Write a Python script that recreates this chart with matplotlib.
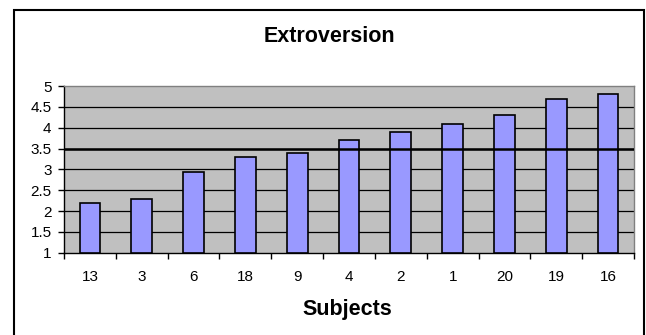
import matplotlib.pyplot as plt
from matplotlib.patches import Rectangle

plt.rcParams["font.family"] = ["Liberation Sans", "DejaVu Sans"]

subjects = ["13", "3", "6", "18", "9", "4", "2", "1", "20", "19", "16"]
extroversion = [2.2, 2.3, 2.93, 3.3, 3.4, 3.7, 3.9, 4.1, 4.3, 4.7, 4.8]
reference_level = 3.5
y_ticks = [1, 1.5, 2, 2.5, 3, 3.5, 4, 4.5, 5]
y_tick_labels = ["1", "1.5", "2", "2.5", "3", "3.5", "4", "4.5", "5"]


def main():
    fig = plt.figure(figsize=(6.46, 3.35), dpi=100)
    fig.patch.set_facecolor("white")

    # chart frame (bottom edge runs off the canvas)
    fig.add_artist(Rectangle((14 / 646, -0.05), 630 / 646, 1.05 - 10.5 / 335,
                             transform=fig.transFigure, fill=False,
                             edgecolor="black", linewidth=1.5))

    ax = fig.add_axes([64 / 646, (335 - 252.7) / 335, 570 / 646, 166.7 / 335])
    ax.set_facecolor("#c0c0c0")

    x = list(range(len(subjects)))
    ax.bar(x, [v - 1 for v in extroversion], bottom=1, width=0.4,
           color="#9999ff", edgecolor="black", linewidth=1.2, zorder=3)

    for y in y_ticks[1:-1]:
        ax.axhline(y, color="black", linewidth=0.9, zorder=2)
    ax.axhline(reference_level, color="black", linewidth=1.8, zorder=4)

    ax.set_xlim(-0.5, len(subjects) - 0.5)
    ax.set_ylim(1, 5)
    ax.set_yticks(y_ticks)
    ax.set_yticklabels(y_tick_labels, fontsize=11)

    ax.set_xticks(x)
    ax.set_xticklabels(subjects, fontsize=11)
    ax.tick_params(axis="x", length=0, pad=12.5)
    ax.set_xticks([i - 0.5 for i in range(len(subjects) + 1)], minor=True)
    ax.tick_params(axis="x", which="minor", length=4, width=1, direction="out")
    ax.tick_params(axis="y", length=4, width=1, direction="out", pad=5)

    for side in ("left", "bottom"):
        ax.spines[side].set_color("black")
        ax.spines[side].set_linewidth(1.0)
    for side in ("top", "right"):
        ax.spines[side].set_color("#808080")
        ax.spines[side].set_linewidth(1.0)

    fig.text(329 / 646, (335 - 36.7) / 335, "Extroversion", ha="center", va="center",
             fontsize=15.5, fontweight="bold")
    fig.text(347.5 / 646, (335 - 309) / 335, "Subjects", ha="center", va="center",
             fontsize=15.5, fontweight="bold")

    fig.savefig("out.png", dpi=100)
    plt.close(fig)


if __name__ == "__main__":
    main()
